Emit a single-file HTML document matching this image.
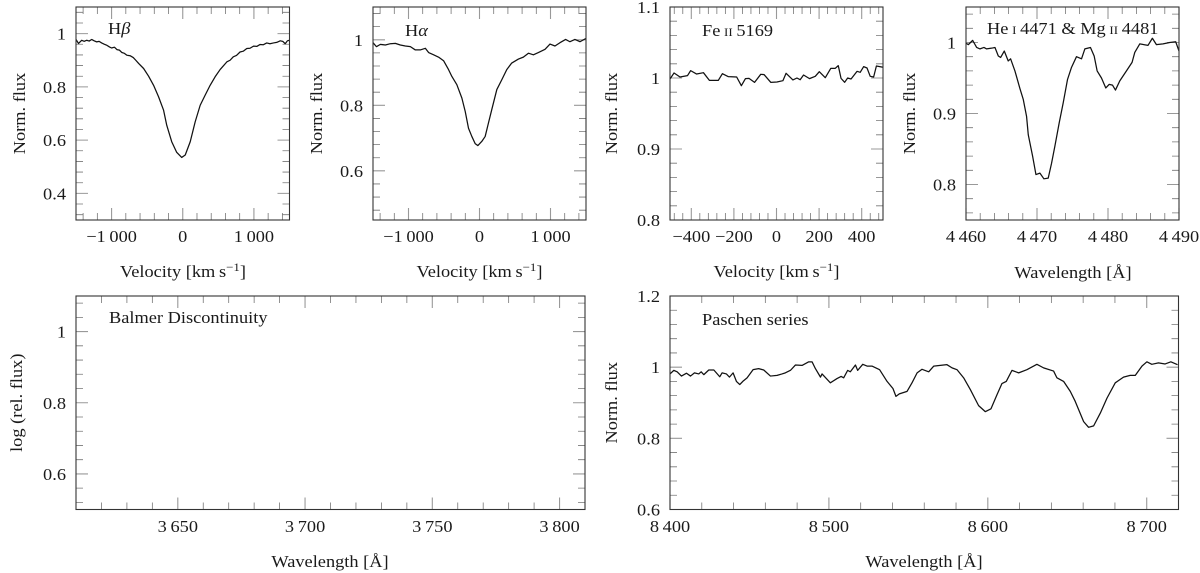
<!DOCTYPE html>
<html lang="en">
<head>
<meta charset="utf-8">
<title>Spectral line profiles</title>
<style>
html,body{margin:0;padding:0;background:#fff;}
#chart{display:block;width:1200px;height:573px;background:#fff;}
text{font-family:"Liberation Serif","DejaVu Serif",serif;fill:#1a1a1a;}
</style>
</head>
<body>
<svg id="chart" xmlns="http://www.w3.org/2000/svg" width="1200" height="573" viewBox="0 0 1200 573"></svg>
<script>
const hbetaVelocity = [-1500,-1465,-1420,-1385,-1350,-1315,-1280,-1245,-1210,-1175,-1140,-1100,-1065,-1030,-1000,-960,-925,-890,-855,-820,-785,-740,-695,-660,-620,-550,-480,-410,-340,-270,-225,-155,-85,-15,35,105,175,245,315,385,455,525,620,665,710,755,805,850,900,945,995,1040,1085,1130,1180,1225,1275,1320,1370,1405,1440,1470,1500];
const hbetaFlux = [.978,.963,.975,.971,.975,.972,.978,.973,.969,.971,.965,.96,.956,.95,.946,.949,.94,.938,.929,.926,.919,.917,.91,.9,.888,.869,.84,.806,.763,.713,.656,.594,.554,.535,.544,.594,.669,.731,.769,.806,.838,.865,.894,.9,.913,.918,.931,.934,.944,.945,.953,.952,.959,.958,.965,.962,.965,.967,.973,.971,.962,.973,.975];

const halphaVelocity = [-1500,-1452,-1396,-1326,-1255,-1185,-1115,-1044,-974,-904,-834,-763,-717,-646,-576,-506,-436,-389,-319,-248,-201,-155,-108,-61,-23,33,80,126,173,244,314,384,454,548,618,689,759,829,923,993,1063,1133,1213,1274,1344,1415,1500];
const halphaFlux = [.991,.979,.986,.984,.988,.989,.984,.981,.979,.969,.969,.974,.961,.954,.947,.936,.909,.888,.863,.822,.781,.730,.705,.683,.677,.690,.705,.746,.787,.848,.878,.909,.929,.941,.947,.959,.954,.961,.971,.987,.981,.991,1.001,.994,1.001,.994,1.004];

const feVelocity = [-500,-481,-453,-418,-403,-375,-343,-315,-273,-254,-226,-187,-165,-146,-129,-103,-74,-58,-27,2,30,45,77,96,111,127,155,182,201,229,255,276,290,303,320,334,350,378,393,409,425,440,456,469,500];
const feFlux = [.9986,1.0071,1.0014,1.0033,1.0104,1.0056,1.0075,.9967,.9967,1.0061,1.0019,1.0014,.9892,.9991,.9995,.9939,1.0052,1.0047,.9939,.9944,.9962,1.0066,.9972,1,.9976,1.0042,.9991,1.0024,1.0089,1.0005,1.0136,1.0136,1.0174,.9995,.9939,1,.9986,1.0094,1.008,1.016,1.0141,1.0024,1.0014,1.0169,1.0151];

const heMgWavelength = [4460,4460.33,4460.94,4461.5,4461.97,4462.53,4462.9,4463.61,4464.08,4464.55,4464.88,4465.39,4465.95,4466.28,4466.89,4467.6,4468.06,4468.53,4468.77,4469.38,4469.85,4470.41,4470.97,4471.58,4472.05,4472.52,4473.13,4473.69,4474.3,4474.86,4475.56,4476.27,4476.74,4477.53,4478.05,4478.47,4479.08,4479.69,4480.16,4480.63,4481.05,4481.66,4482.6,4483.39,4483.77,4484.47,4485.64,4486.25,4486.82,4487.75,4488.69,4489.54,4490];
const heMgFlux = [.999,.997,1.003,.993,.991,.993,.991,.992,.993,.981,.979,.988,.974,.977,.96,.935,.92,.896,.87,.84,.814,.816,.808,.809,.83,.854,.887,.915,.948,.965,.98,.977,.991,.993,.981,.96,.95,.936,.941,.94,.933,.946,.96,.972,.986,.998,.996,1.006,.997,.998,1,1.001,.988];

const balmerWavelength = [];
const balmerFlux = [];

const paschenWavelength = [8400,8402.4,8404.5,8407.2,8410.4,8412.9,8415.4,8418.1,8419.6,8421.3,8424.4,8427.6,8431.3,8432.8,8435.5,8437.4,8439.7,8441.8,8443.9,8445.8,8448.5,8452.3,8455.8,8459,8463.2,8467.4,8470.5,8472.6,8475.8,8478.9,8483.1,8487.3,8489.4,8491.5,8494.7,8495.7,8500.9,8505.1,8507.7,8509.3,8511.8,8513.5,8516.7,8518.1,8521.3,8524,8527.1,8531.9,8536.6,8540.3,8542.2,8544.3,8549.2,8552.3,8555.5,8558.6,8562.8,8566,8570.1,8574.3,8577.5,8580.6,8584.8,8589,8594.2,8598.4,8602,8605.8,8608.9,8611.6,8615.2,8619.4,8624.6,8630.9,8635.1,8641.4,8643.5,8647.7,8651.9,8655,8660.3,8663.4,8666.6,8670.8,8675,8680.2,8685.4,8689.6,8692.8,8697,8700.1,8703.2,8707.4,8711.6,8715.2,8719.4];
const paschenFlux = [.981,.991,.987,.975,.983,.975,.984,.981,.987,.979,.992,.992,.973,.984,.981,.972,.984,.96,.951,.96,.97,.993,.996,.992,.975,.977,.981,.984,.991,1.006,1.005,1.015,1.015,.996,.972,.981,.956,.968,.974,.97,.991,.987,1.006,.991,1.008,1.003,1.003,.993,.96,.94,.918,.925,.932,.956,.984,.994,.987,1.003,1.005,1.007,.998,.993,.97,.937,.892,.875,.883,.923,.954,.96,.991,.984,.993,1.008,.998,.989,.97,.96,.932,.904,.847,.831,.835,.871,.913,.956,.972,.977,.977,1.003,1.015,1.008,1.012,1.009,1.015,1.007];

const velocityTicks = [-1000,0,1000];
const feVelocityTicks = [-400,-200,0,200,400];
const heMgTicks = [4460,4470,4480,4490];
const balmerTicks = [3650,3700,3750,3800];
const paschenTicks = [8400,8500,8600,8700];
const hbetaFluxTicks = [0.4,0.6,0.8,1];
const halphaFluxTicks = [0.6,0.8,1];
const feFluxTicks = [0.8,0.9,1,1.1];
const heMgFluxTicks = [0.8,0.9,1];
const balmerFluxTicks = [0.6,0.8,1];
const paschenFluxTicks = [0.6,0.8,1,1.2];

const VEL_TITLE = 'Velocity [km\u2009s<tspan dy="-6" font-size="12">\u22121</tspan><tspan dy="6">]</tspan>';
const WAVE_TITLE = 'Wavelength [\u00C5]';

const panels = [
  {id:'hbeta',   box:[76,7,213.5,213],  xr:[-1500,1500], yr:[.3,1.1],   xs:velocityTicks, ys:hbetaFluxTicks, xMinor:200, yMinor:.04, xd:hbetaVelocity, yd:hbetaFlux,
   note:'H<tspan font-style="italic">\u03B2</tspan>', nx:108, ny:34, xt:VEL_TITLE, xtY:277, xtX:183, yt:'Norm. flux', ytX:25, xlY:242},
  {id:'halpha',  box:[373,7,213,213],   xr:[-1500,1500], yr:[.45,1.1],  xs:velocityTicks, ys:halphaFluxTicks, xMinor:200, yMinor:.04, xd:halphaVelocity, yd:halphaFlux,
   note:'H<tspan font-style="italic">\u03B1</tspan>', nx:405, ny:36, xt:VEL_TITLE, xtY:277, xtX:479.5, yt:'Norm. flux', ytX:322, xlY:242},
  {id:'fe-ii',   box:[670,7,213,213],   xr:[-500,500],   yr:[.8,1.1],   xs:feVelocityTicks, ys:feFluxTicks, xMinor:40, yMinor:.02, xd:feVelocity, yd:feFlux,
   note:'Fe\u2009<tspan font-size="12">II</tspan>\u20095169', nx:702, ny:36, xt:VEL_TITLE, xtY:277, xtX:776.5, yt:'Norm. flux', ytX:617, xlY:242},
  {id:'he-mg',   box:[966,7,213,213],   xr:[4460,4490],  yr:[.75,1.05], xs:heMgTicks, ys:heMgFluxTicks, xMinor:2, yMinor:.02, xd:heMgWavelength, yd:heMgFlux,
   note:'He\u2009<tspan font-size="12">I</tspan>\u20094471 &amp; Mg\u2009<tspan font-size="12">II</tspan>\u20094481', nx:987, ny:34, xt:WAVE_TITLE, xtY:278, xtX:1073, yt:'Norm. flux', ytX:915, xlY:242},
  {id:'balmer',  box:[76,296,509,213.5], xr:[3610,3810], yr:[.5,1.1],   xs:balmerTicks, ys:balmerFluxTicks, xMinor:10, yMinor:.04, xd:balmerWavelength, yd:balmerFlux,
   note:'Balmer Discontinuity', nx:109, ny:323, xt:WAVE_TITLE, xtY:567, xtX:330, yt:'log (rel. flux)', ytX:22, xlY:532},
  {id:'paschen', box:[670,296,508.5,213.5], xr:[8400,8720], yr:[.6,1.2], xs:paschenTicks, ys:paschenFluxTicks, xMinor:20, yMinor:.04, xd:paschenWavelength, yd:paschenFlux,
   note:'Paschen series', nx:702, ny:325, xt:WAVE_TITLE, xtY:567, xtX:924, yt:'Norm. flux', ytX:617, xlY:532}
];

const svg = document.getElementById('chart');
const NS = 'http://www.w3.org/2000/svg';
const FONT = 17, STRETCH = 1.08;

function make(parent, tag, attrs) {
  const el = document.createElementNS(NS, tag);
  for (const k in attrs) el.setAttribute(k, attrs[k]);
  parent.appendChild(el);
  return el;
}
function label(parent, html, x, y, anchor, rot) {
  const el = make(parent, 'text', {
    'font-size': FONT,
    'text-anchor': anchor,
    transform: 'translate(' + x + ',' + y + ') rotate(' + (rot || 0) + ') scale(' + STRETCH + ',1)'
  });
  el.innerHTML = html;
  return el;
}
function fmtX(v) {
  const a = Math.abs(v);
  const s = a >= 1000 ? Math.floor(a / 1000) + '\u2009' + String(a % 1000).padStart(3, '0') : String(a);
  return (v < 0 ? '\u2212' : '') + s;
}
function minorValues(range, anchor, step) {
  const out = [];
  const n0 = Math.ceil((range[0] - anchor) / step - 1e-6);
  const n1 = Math.floor((range[1] - anchor) / step + 1e-6);
  for (let n = n0; n <= n1; n++) out.push(anchor + n * step);
  return out;
}

panels.forEach(function (p) {
  const [bx, by, bw, bh] = p.box;
  const sx = function (v) { return bx + (v - p.xr[0]) / (p.xr[1] - p.xr[0]) * bw; };
  const sy = function (v) { return by + bh - (v - p.yr[0]) / (p.yr[1] - p.yr[0]) * bh; };

  const g = make(svg, 'g', {});
  
  

  const ticks = make(g, 'g', {fill: 'none'});
  
  

  const isMajor = function (list, v) { return list.some(function (m) { return Math.abs(m - v) < 1e-6; }); };
  minorValues(p.xr, p.xs[0], p.xMinor).forEach(function (v) {
    const major = isMajor(p.xs, v);
    const len = major ? 12 : 7;
    const x = sx(v);
    make(ticks, 'path', {d: 'M' + x + ' ' + (by + bh) + 'v' + (-len) + 'M' + x + ' ' + by + 'v' + len, stroke: major ? '#999' : '#777', 'stroke-width': major ? 1.1 : 0.8});
  });
  minorValues(p.yr, p.ys[0], p.yMinor).forEach(function (v) {
    const major = isMajor(p.ys, v);
    const len = major ? 12 : 7;
    const y = sy(v);
    make(ticks, 'path', {d: 'M' + bx + ' ' + y + 'h' + len + 'M' + (bx + bw) + ' ' + y + 'h' + (-len), stroke: major ? '#999' : '#777', 'stroke-width': major ? 1.1 : 0.8});
  });

  if (p.xd.length) {
    const d = p.xd.map(function (v, i) { return (i ? 'L' : 'M') + sx(v).toFixed(2) + ' ' + sy(p.yd[i]).toFixed(2); }).join('');
    const line = make(g, 'path', {d: d, fill: 'none', stroke: '#111', 'stroke-width': 1.25, 'stroke-linejoin': 'round'});
    
    
  }

  const frame = make(g, 'rect', {x: bx, y: by, width: bw, height: bh, fill: 'none', stroke: '#333', 'stroke-width': 1.1});
  
  

  p.xs.forEach(function (v) {
    const t = label(g, fmtX(v), sx(v), p.xlY, 'middle');
    
    
  });
  p.ys.forEach(function (v) {
    const t = label(g, String(v), bx - 10, sy(v) + 6, 'end');
    
    
  });

  const xTitle = label(g, p.xt, p.xtX, p.xtY, 'middle');
  
  

  const yTitle = label(g, p.yt, p.ytX, by + bh / 2, 'middle', -90);
  
  

  const note = label(g, p.note, p.nx, p.ny, 'start');
  
  
});
</script>
</body>
</html>
